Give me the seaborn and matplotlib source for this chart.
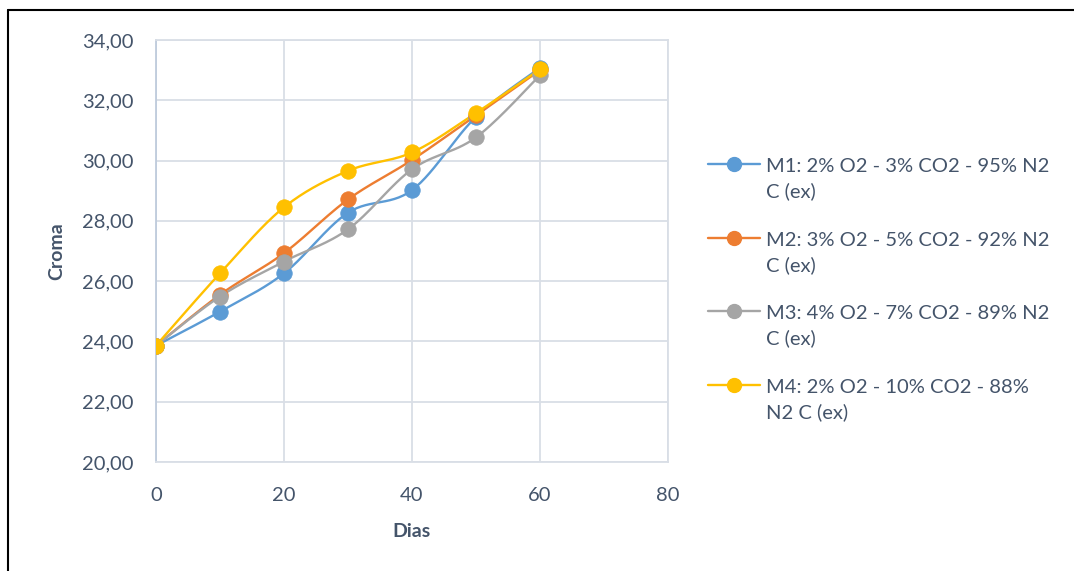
import numpy as np
import pandas as pd
import matplotlib
matplotlib.use("Agg")
import matplotlib.pyplot as plt
import seaborn as sns
from matplotlib.lines import Line2D
from matplotlib.legend_handler import HandlerLine2D

dias = [0, 10, 20, 30, 40, 50, 60]
m1 = [23.86, 24.99, 26.26, 28.27, 29.02, 31.45, 33.08]
m2 = [23.86, 25.55, 26.93, 28.71, 30.02, 31.50, 33.00]
m3 = [23.86, 25.49, 26.65, 27.72, 29.71, 30.77, 32.83]
m4 = [23.86, 26.26, 28.45, 29.66, 30.27, 31.58, 33.03]
series_names = ["M1: 2% O2 - 3% CO2 - 95% N2\nC (ex)",
                "M2: 3% O2 - 5% CO2 - 92% N2\nC (ex)",
                "M3: 4% O2 - 7% CO2 - 89% N2\nC (ex)",
                "M4: 2% O2 - 10% CO2 - 88%\nN2 C (ex)"]
colors = ["#5B9BD5", "#ED7D31", "#A5A5A5", "#FFC000"]
yticks = [20, 22, 24, 26, 28, 30, 32, 34]
xticks = [0, 20, 40, 60, 80]

sns.set_theme(style="white")
plt.rcParams['font.family'] = ['Lato', 'DejaVu Sans']
txt = "#44546A"


def smooth(x, y, n=30):
    # Bezier smoothing through the points (Catmull-Rom style), like Excel smoothed lines
    x = np.asarray(x, float); y = np.asarray(y, float)
    P = np.column_stack([x, y])
    out = [P[0]]
    for i in range(len(P) - 1):
        p0 = P[i - 1] if i > 0 else P[i]
        p1, p2 = P[i], P[i + 1]
        p3 = P[i + 2] if i + 2 < len(P) else P[i + 1]
        c1 = p1 + (p2 - p0) / 6.0
        c2 = p2 - (p3 - p1) / 6.0
        t = np.linspace(0, 1, n)[1:, None]
        seg = ((1 - t) ** 3) * p1 + 3 * ((1 - t) ** 2) * t * c1 + 3 * (1 - t) * t ** 2 * c2 + t ** 3 * p2
        out.extend(seg)
    out = np.array(out)
    return out[:, 0], out[:, 1]


class FirstLineHandler(HandlerLine2D):
    """Aligns the legend handle with the first line of a two-line label."""
    def create_artists(self, legend, orig_handle, xdescent, ydescent, width, height, fontsize, trans):
        arts = super().create_artists(legend, orig_handle, xdescent, ydescent, width, height,
                                      fontsize, trans)
        for a in arts:
            a.set_ydata(np.asarray(a.get_ydata()) + 0.75 * fontsize)
        return arts


fig = plt.figure(figsize=(10.74, 5.71), dpi=100)
ax = fig.add_axes([156 / 1074, 1 - 462 / 571, 512 / 1074, 422 / 571])

handles = []
for vals, name, c in zip([m1, m2, m3, m4], series_names, colors):
    sx, sy = smooth(dias, vals)
    dfl = pd.DataFrame({"x": sx, "y": sy})
    sns.lineplot(data=dfl, x="x", y="y", ax=ax, color=c, linewidth=1.7, sort=False,
                 estimator=None, legend=False)
    dfp = pd.DataFrame({"x": dias, "y": vals})
    sns.scatterplot(data=dfp, x="x", y="y", ax=ax, color=c, s=125, edgecolor=c,
                    linewidth=0.5, legend=False, zorder=5)
    handles.append(Line2D([0], [0], color=c, linewidth=1.7, marker="o", markersize=10,
                          markerfacecolor=c, markeredgecolor=c, label=name))

ax.set_xlim(0, 80)
ax.set_ylim(20, 34)
ax.set_xticks(xticks)
ax.set_yticks(yticks)
ax.set_yticklabels([f"{v:.2f}".replace(".", ",") for v in yticks])
ax.tick_params(axis="both", labelsize=14.5, colors=txt, length=0)
ax.tick_params(axis="y", pad=16)
ax.tick_params(axis="x", pad=18)
ax.grid(True, color="#D9DEE6", linewidth=1.3)
ax.set_axisbelow(True)
for s in ["top", "right"]:
    ax.spines[s].set_visible(True)
    ax.spines[s].set_color("#D9DEE6")
    ax.spines[s].set_linewidth(1.3)
ax.spines["bottom"].set_color("#D9DEE6")
ax.spines["bottom"].set_linewidth(1.3)
ax.spines["left"].set_color("#BFCBDC")
ax.spines["left"].set_linewidth(1.3)
ax.set_xlabel("Dias", fontsize=14, fontweight="bold", color=txt, labelpad=14)
ax.set_ylabel("Croma", fontsize=14, fontweight="bold", color=txt, labelpad=12)

leg = fig.legend(handles=handles, loc="upper left", bbox_to_anchor=(700 / 1074, 1 - 150 / 571),
                 frameon=False, fontsize=14.5, labelspacing=1.55, handlelength=2.6,
                 handletextpad=0.3, borderaxespad=0,
                 handler_map={Line2D: FirstLineHandler()})
for t in leg.get_texts():
    t.set_color(txt)
    t.set_linespacing(1.5)

# outer frame (left and top edges visible)
fig.add_artist(Line2D([8 / 1074, 8 / 1074], [0, 1 - 10 / 571], color="black", linewidth=1.5,
                      transform=fig.transFigure))
fig.add_artist(Line2D([8 / 1074, 1], [1 - 10 / 571, 1 - 10 / 571], color="black", linewidth=1.5,
                      transform=fig.transFigure))

fig.savefig("out.png", dpi=100)
